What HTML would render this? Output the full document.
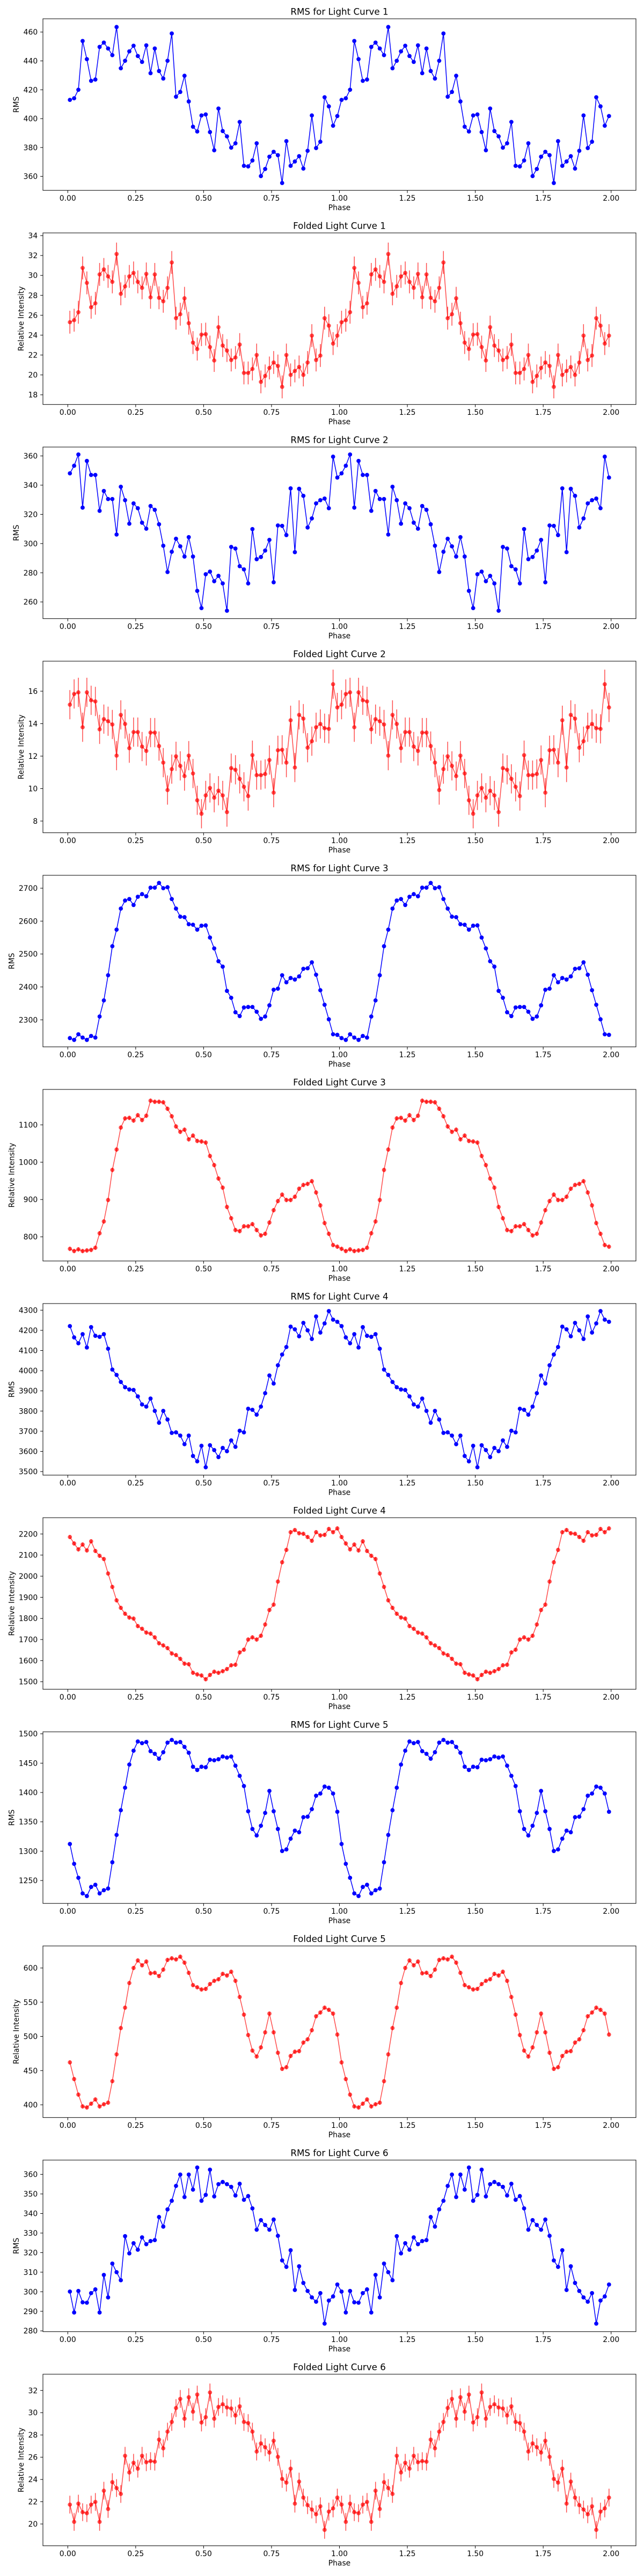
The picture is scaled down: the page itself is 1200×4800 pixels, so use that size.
<!DOCTYPE html>
<html><head><meta charset="utf-8"><title>Light Curves</title>
<style>
html,body{margin:0;padding:0;background:#fff;}
svg{display:block;font-family:"DejaVu Sans","Liberation Sans",sans-serif;}
</style></head>
<body>
<svg id="fig" xmlns="http://www.w3.org/2000/svg" width="1200" height="4800" viewBox="0 0 1200 4800"></svg>
<script>
// ---- data (values per 64 phase bins, repeated for phase+1) ----
const xTicks = [0.0, 0.25, 0.5, 0.75, 1.0, 1.25, 1.5, 1.75, 2.0];
const xTickLabels = ["0.00","0.25","0.50","0.75","1.00","1.25","1.50","1.75","2.00"];

const rms1 = [413.0,414.1,420.0,453.8,441.2,426.2,427.1,449.7,452.7,448.6,444.0,463.5,434.9,440.1,446.6,450.5,443.4,439.3,450.8,431.5,448.6,433.0,427.8,440.1,459.0,415.2,418.5,429.7,411.9,394.4,391.1,402.2,402.9,390.7,378.1,407.0,391.4,387.7,379.9,382.9,397.7,367.3,366.9,371.0,382.9,360.2,365.1,373.6,377.0,374.7,355.4,384.4,367.3,370.3,374.0,365.4,377.7,402.2,379.6,384.0,414.8,408.5,395.1,401.8];
const fold1 = [25.3,25.5,26.3,30.75,29.25,26.8,27.2,30.1,30.6,29.9,29.35,32.15,28.15,28.9,29.9,30.25,29.35,28.75,30.15,27.8,30.1,27.75,27.4,28.75,31.3,25.7,26.1,27.7,25.2,23.25,22.6,24.05,24.1,22.8,21.45,24.8,22.95,22.45,21.5,21.75,23.05,20.2,20.2,20.6,22.0,19.3,19.9,20.7,21.25,20.9,18.8,22.0,20.0,20.4,20.8,20.0,21.25,23.95,21.5,21.95,25.7,24.95,23.15,23.95];
const rms2 = [348.1,353.3,361.0,324.6,356.6,347.0,347.0,322.4,336.0,330.5,330.5,306.2,338.9,329.7,313.6,327.5,324.2,314.3,310.2,325.7,323.1,313.2,298.5,280.5,294.4,303.3,298.1,291.1,304.4,291.1,267.6,255.8,279.0,280.8,274.2,277.9,272.7,254.0,297.7,296.6,284.5,282.3,272.7,309.9,289.3,290.8,295.2,302.5,273.5,312.4,312.1,305.8,337.8,294.1,337.5,332.7,311.0,317.2,327.5,329.7,330.8,324.2,359.5,345.2];
const fold2 = [15.17,15.83,15.93,13.78,15.93,15.44,15.37,13.65,14.28,14.15,13.95,12.03,14.54,13.98,12.49,13.48,13.48,12.59,12.32,13.45,13.45,12.62,11.6,9.91,11.2,11.99,11.4,10.77,12.03,10.93,9.28,8.45,9.58,10.04,9.44,9.87,9.58,8.55,11.26,11.16,10.6,10.11,9.54,12.06,10.83,10.83,10.9,11.76,9.75,12.36,12.39,11.6,14.21,11.3,14.54,14.31,12.52,12.92,13.78,13.98,13.72,13.68,16.43,15.0];
const rms3 = [2244.5,2239,2256,2246,2239,2251,2246,2310,2359,2435.5,2523.7,2574,2638,2662.5,2667,2649,2674,2682,2675.5,2701.6,2701.6,2716,2700,2703,2667,2638,2613.5,2612,2590.6,2589,2574,2586,2587,2550,2517,2478,2461.6,2388,2367,2323,2311.4,2337.5,2339,2339,2324.5,2303,2310,2344,2391.4,2394.7,2435.5,2414,2427,2422.5,2432,2455,2456.7,2474.7,2437,2390,2345.7,2301.6,2256,2254.3];
const fold3 = [767.9,762,766.5,762,763.6,765,770.8,809.6,841.2,898.7,979.2,1033.9,1092.8,1117.3,1118.7,1111.5,1125.9,1112.9,1124.4,1164.7,1161.8,1161.8,1160.4,1143.1,1123,1095.7,1081.3,1087.1,1061.2,1071.2,1056.9,1055.4,1052.6,1016.6,992.2,956.2,931.8,880,849.8,818.2,815.3,828.3,828.3,834,818.2,803.8,808.2,838.3,871.4,895.9,913.1,898.7,898.7,907.4,928.9,939,941.9,949.1,918.9,884.3,836.9,808.2,778,773.7];
const rms4 = [4221,4165,4136,4181,4115,4216,4173,4168,4181,4109,4005.5,3979,3944,3918,3907,3904.4,3872.5,3832.6,3822,3862,3800.7,3742,3800.7,3758,3691.6,3694.3,3678.3,3635.7,3678.3,3577.2,3550.6,3627.7,3521.3,3630.4,3606.4,3571.8,3617,3601,3654.3,3622.4,3702.2,3694.3,3811.3,3806,3782,3822,3888.5,3976.3,3936.4,4026.8,4080,4117.3,4218.4,4205,4170.5,4237,4200,4157.2,4269,4189,4234.4,4295.6,4253,4242.4];
const fold4 = [2185.6,2155,2127,2150,2122,2165.3,2119.5,2096.6,2081.4,2012.7,1949.2,1885.6,1850,1822,1804.2,1799.2,1763.6,1750.8,1733,1728,1710.2,1682.2,1672,1659.3,1633.9,1626.3,1608.5,1585.6,1583,1542.4,1534.7,1529.7,1511.9,1532.2,1547.5,1542.4,1550,1560.2,1578,1580.5,1639,1651.7,1700,1710.2,1700,1717.8,1771.2,1839.8,1865.3,1974.6,2066,2124.6,2208.5,2218.6,2203.4,2200.8,2185.6,2167.8,2208.5,2193.2,2195.8,2223.7,2208.5,2226.3];
const rms5 = [1312.2,1278.4,1254.6,1228,1223.5,1239,1242.7,1228,1233.5,1236.3,1281.1,1327.7,1369.8,1408.2,1447.6,1471.3,1486.9,1484.1,1486,1470.4,1465.9,1457.6,1468.6,1485,1489.6,1485,1486,1477.7,1467.7,1443.9,1438.4,1443.9,1443,1455.8,1454.9,1456.7,1461.3,1459.5,1461.3,1445.7,1428.4,1411,1368,1337.8,1326.8,1343.3,1365.2,1402.7,1368,1337.8,1300.3,1303,1321.3,1335,1332.3,1357.9,1358.8,1371.6,1394.5,1398.2,1410.1,1408.2,1398.2,1367.1];
const fold5 = [462,437.6,414.9,397.6,396.1,401.6,407.8,397.6,400.8,403.1,434.5,473.7,512.2,542,578,600,611,603.9,609.4,592.2,593,588.2,597.6,611.8,614.1,612.5,616.5,607.8,592.9,574.9,571.8,568.6,569.4,576.5,581.2,583.5,591.4,589,594.5,581.2,557.6,531.8,502,479.2,470.6,483.9,505.9,533.3,505.9,476.1,452.5,454.9,471.4,477.6,478.4,491,495.7,509,529.4,534.9,542,538.8,533.3,502.7];
const rms6 = [300.1,289.4,300.4,294.6,294.4,299.3,301.2,289.4,308.6,297.1,314.4,310,305.9,328.4,319.6,324.8,321.5,327.8,324.3,325.9,326.4,338.2,333.3,342.1,346.5,354.1,359.9,348.4,359.9,352.2,363.5,346.5,349.5,362.4,348.7,355,356.1,355,353.6,349.2,355.2,347,348.9,342.6,331.7,336.6,334.1,331.7,336.9,328.6,316,312.7,321.2,300.9,313,304.5,300.4,297.1,294.9,299.3,283.7,295.5,297.6,303.7];
const fold6 = [21.74,20.19,21.83,21.06,20.97,21.74,21.98,20.19,22.99,21.35,23.76,23.23,22.7,26.13,24.63,25.5,24.97,26.13,25.55,25.65,25.6,27.58,26.8,28.3,29.17,30.42,31.24,29.46,31.39,30.09,31.63,29.12,29.6,31.82,29.46,30.52,30.76,30.47,30.38,29.75,30.57,29.17,29.07,28.3,26.51,27.24,26.9,26.42,27.48,26.03,24.05,23.72,24.97,21.83,23.81,22.37,21.69,21.3,20.87,21.59,19.47,21.11,21.4,22.37];

// error bar half-widths for folded curves
const errs = [1.15, 0.9, 6, 10, 3, 0.8];

// y tick labels per panel
const yTicks = [
  [360,380,400,420,440,460],
  [18,20,22,24,26,28,30,32,34],
  [260,280,300,320,340,360],
  [8,10,12,14,16],
  [2300,2400,2500,2600,2700],
  [800,900,1000,1100],
  [3500,3600,3700,3800,3900,4000,4100,4200,4300],
  [1500,1600,1700,1800,1900,2000,2100,2200],
  [1250,1300,1350,1400,1450,1500],
  [400,450,500,550,600],
  [280,290,300,310,320,330,340,350,360],
  [20,22,24,26,28,30,32]
];
// y-axis limits per panel
const yLims = [
  [350.3,469.2],[17.03,34.27],[248.6,366.1],[7.28,17.85],
  [2217.8,2739.2],[735.3,1194.9],[3482.3,4332.8],[1464.4,2277.1],
  [1211,1503.4],[381.4,632.2],[279.6,367.3],[18.04,33.46]
];
const seriesList = [rms1,fold1,rms2,fold2,rms3,fold3,rms4,fold4,rms5,fold5,rms6,fold6];

// ---- drawing ----
const NS = "http://www.w3.org/2000/svg";
const svg = document.getElementById("fig");
const X0 = 80, X1 = 1185, XMIN = -0.0914, XMAX = 2.0914;
const H = 319.7;
function xs(v){ return X0 + (v - XMIN) / (XMAX - XMIN) * (X1 - X0); }
function mk(tag, attrs, parent){
  const e = document.createElementNS(NS, tag);
  for (const k in attrs) e.setAttribute(k, attrs[k]);
  (parent || svg).appendChild(e);
  return e;
}
function digits(v){ return String(v).length; }

for (let k = 0; k < 12; k++) {
  const isFold = k % 2 === 1;
  const curveNo = Math.floor(k / 2) + 1;
  const top = 35 + 399 * k, bot = top + H;
  const [ymin, ymax] = yLims[k];
  const ys = v => bot - (v - ymin) / (ymax - ymin) * H;
  const vals = seriesList[k];
  const n = vals.length;
  const px = [], py = [];
  for (let c = 0; c < 2; c++) for (let i = 0; i < n; i++) { px.push(c + (i + 0.5) / n); py.push(vals[i]); }

  const g = mk("g", {});
  
  

  // title
  const t = mk("text", {x: (X0 + X1) / 2, y: top - 7.5, "text-anchor": "middle", "font-size": "16.7", fill: "#000"}, g);
  t.textContent = (isFold ? "Folded Light Curve " : "RMS for Light Curve ") + curveNo;
  
  

  // clip
  const cid = "clip" + k;
  const cp = mk("clipPath", {id: cid}, g);
  mk("rect", {x: X0, y: top, width: X1 - X0, height: H}, cp);

  const plot = mk("g", {"clip-path": "url(#" + cid + ")"}, g);
  
  

  const color = isFold ? "#ff0000" : "#0000ff";
  const op = isFold ? 0.7 : 1;
  if (isFold) {
    const e = errs[curveNo - 1];
    for (let i = 0; i < px.length; i++) {
      const eb = mk("line", {x1: xs(px[i]), x2: xs(px[i]), y1: ys(py[i] - e), y2: ys(py[i] + e), stroke: color, "stroke-width": 1.5, "stroke-opacity": op}, plot);
      
      
    }
  }
  const line = mk("polyline", {points: px.map((x, i) => xs(x).toFixed(2) + "," + ys(py[i]).toFixed(2)).join(" "), fill: "none", stroke: color, "stroke-width": 1.5, "stroke-opacity": op, "stroke-linejoin": "round"}, plot);
  
  
  for (let i = 0; i < px.length; i++) {
    const c = mk("circle", {cx: xs(px[i]), cy: ys(py[i]), r: 3.9, fill: color, "fill-opacity": op}, plot);
    
    
  }

  // frame
  const fr = mk("rect", {x: X0, y: top, width: X1 - X0, height: H, fill: "none", stroke: "#000", "stroke-width": 1}, g);
  
  

  // x ticks
  const xa = mk("g", {}, g);
  
  
  xTicks.forEach((v, i) => {
    mk("line", {x1: xs(v), x2: xs(v), y1: bot, y2: bot + 4.9, stroke: "#000", "stroke-width": 1}, xa);
    const tl = mk("text", {x: xs(v), y: bot + 19.5, "text-anchor": "middle", "font-size": "13.9", fill: "#000"}, xa);
    tl.textContent = xTickLabels[i];
    
    
  });
  const xl = mk("text", {x: (X0 + X1) / 2, y: bot + 37, "text-anchor": "middle", "font-size": "13.9", fill: "#000"}, xa);
  xl.textContent = "Phase";
  
  

  // y ticks
  const ya = mk("g", {}, g);
  
  
  let maxW = 0;
  yTicks[k].forEach(v => {
    const y = ys(v);
    mk("line", {x1: X0 - 4.9, x2: X0, y1: y, y2: y, stroke: "#000", "stroke-width": 1}, ya);
    const tl = mk("text", {x: X0 - 9.8, y: y + 5, "text-anchor": "end", "font-size": "13.9", fill: "#000"}, ya);
    tl.textContent = String(v);
    
    
    maxW = Math.max(maxW, digits(v) * 8.85);
  });
  const lx = X0 - 9.8 - maxW - 12.5;
  const yl = mk("text", {x: lx, y: (top + bot) / 2, "text-anchor": "middle", "font-size": "13.9", fill: "#000", transform: "rotate(-90 " + lx + " " + ((top + bot) / 2) + ")", "dominant-baseline": "central"}, ya);
  yl.textContent = isFold ? "Relative Intensity" : "RMS";
  
  
}
</script>
</body></html>
